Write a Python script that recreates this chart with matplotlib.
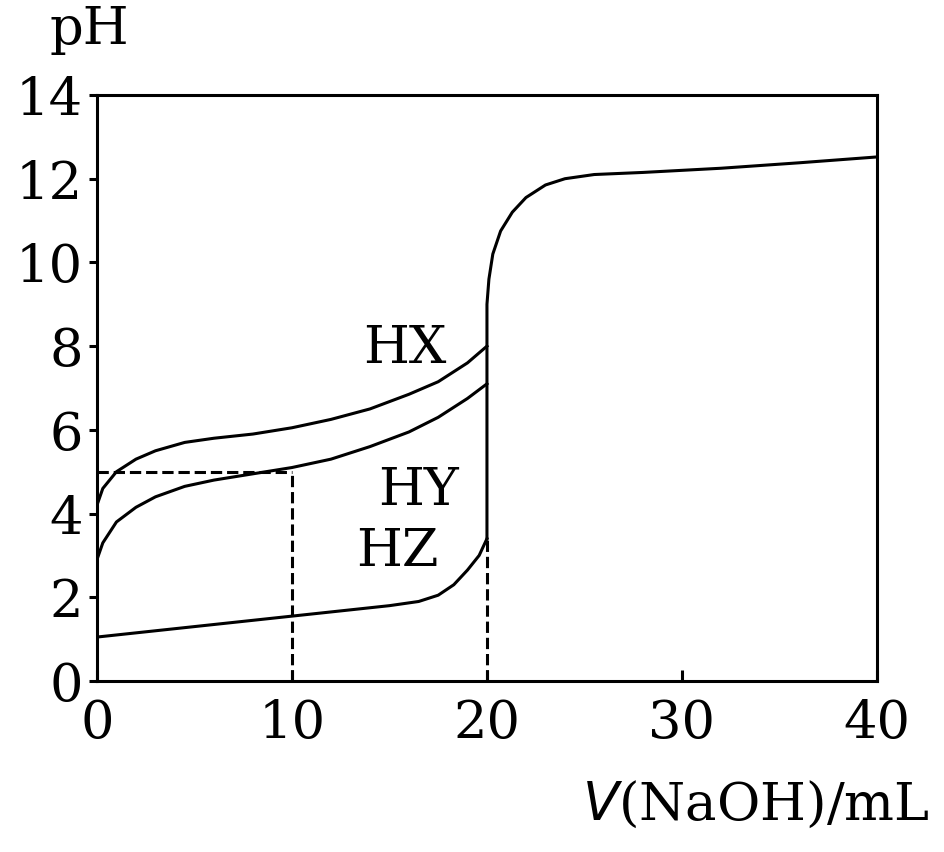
import matplotlib
matplotlib.use("Agg")
import matplotlib.pyplot as plt

hx_v = [0, 0.3, 1, 2, 3, 4.5, 6, 8, 10, 12, 14, 16, 17.5, 19, 20]
hx_ph = [4.2, 4.6, 5.0, 5.3, 5.5, 5.7, 5.8, 5.9, 6.05, 6.25, 6.5, 6.85, 7.15, 7.6, 8.0]
hy_v = [0, 0.3, 1, 2, 3, 4.5, 6, 8, 10, 12, 14, 16, 17.5, 19, 20]
hy_ph = [2.9, 3.3, 3.8, 4.15, 4.4, 4.65, 4.8, 4.95, 5.1, 5.3, 5.6, 5.95, 6.3, 6.75, 7.1]
hz_v = [0, 4, 8, 12, 15, 16.5, 17.5, 18.3, 19, 19.6, 20]
hz_ph = [1.05, 1.25, 1.45, 1.65, 1.8, 1.9, 2.05, 2.3, 2.65, 3.0, 3.4]
ex_v = [20, 20, 20.1, 20.3, 20.7, 21.3, 22, 23, 24, 25.5, 28, 32, 36, 40]
ex_ph = [3.4, 9.0, 9.6, 10.2, 10.75, 11.2, 11.55, 11.85, 12.0, 12.1, 12.15, 12.25, 12.38, 12.52]
xticks = [0, 10, 20, 30, 40]
yticks = [0, 2, 4, 6, 8, 10, 12, 14]

plt.rcParams['font.family'] = ['DejaVu Serif']
fig = plt.figure(figsize=(9.45, 8.52), dpi=100)
ax = fig.add_axes([0.1026, 0.2007, 0.8254, 0.6878])
lw = 2.2
for v, p in [(hx_v, hx_ph), (hy_v, hy_ph), (hz_v, hz_ph), (ex_v, ex_ph)]:
    ax.plot(v, p, color='black', lw=lw)
ax.plot([0, 10], [5, 5], 'k--', lw=lw)
ax.plot([10, 10], [0, 5], 'k--', lw=lw)
ax.plot([20, 20], [0, 3.4], 'k--', lw=lw)
ax.set_xlim(0, 40); ax.set_ylim(0, 14)
ax.set_xticks(xticks); ax.set_yticks(yticks)
ax.tick_params(axis='x', direction='in', length=8, width=lw, labelsize=38, pad=12)
ax.tick_params(axis='y', direction='out', length=6, width=lw, labelsize=38, pad=4)
for s in ax.spines.values():
    s.set_linewidth(lw)
fs = 38
ax.text(15.8, 7.95, 'HX', fontsize=fs, ha='center', va='center')
ax.text(16.5, 4.55, 'HY', fontsize=fs, ha='center', va='center')
ax.text(15.4, 3.1, 'HZ', fontsize=fs, ha='center', va='center')
fig.text(0.095, 0.965, 'pH', fontsize=fs, ha='center', va='center')
fig.text(0.8, 0.055, r'$\mathit{V}$(NaOH)/mL', fontsize=fs, ha='center', va='center')
fig.savefig('out.png', dpi=100)
